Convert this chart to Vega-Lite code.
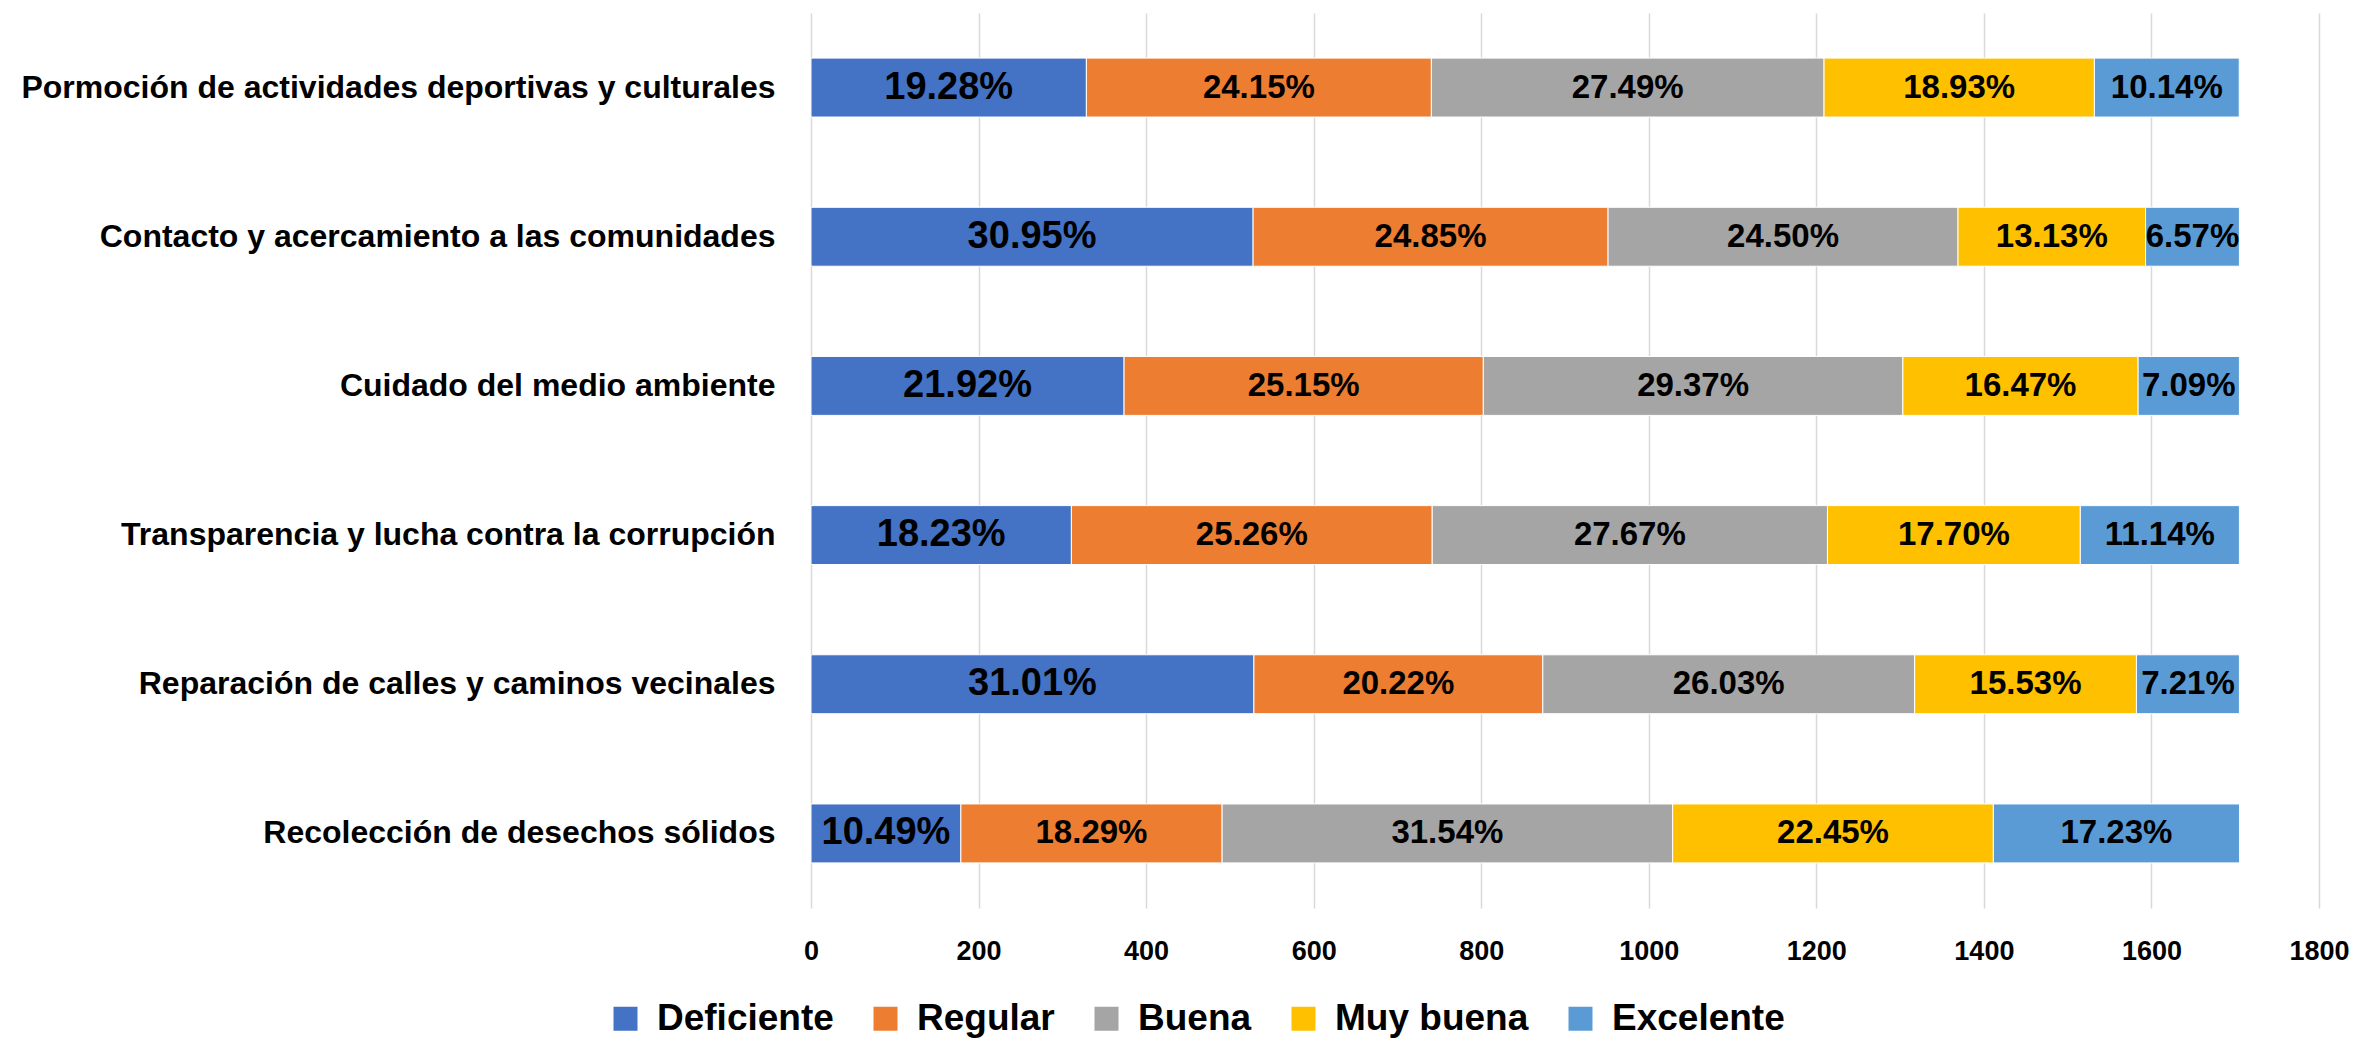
{
  "$schema": "https://vega.github.io/schema/vega-lite/v6.json",
  "autosize": "none",
  "width": 1508,
  "height": 895,
  "padding": {"left": 811, "top": 13, "right": 38, "bottom": 130},
  "background": "white",
  "config": {
    "view": {"stroke": null},
    "font": "Liberation Sans"
  },
  "data": {
    "values": [
      {"item": "Pormoción de actividades deportivas y culturales", "rating": "Deficiente", "rank": 1, "count": 328.7, "pct": 0.1928},
      {"item": "Pormoción de actividades deportivas y culturales", "rating": "Regular", "rank": 2, "count": 411.8, "pct": 0.2415},
      {"item": "Pormoción de actividades deportivas y culturales", "rating": "Buena", "rank": 3, "count": 468.7, "pct": 0.2749},
      {"item": "Pormoción de actividades deportivas y culturales", "rating": "Muy buena", "rank": 4, "count": 322.7, "pct": 0.1893},
      {"item": "Pormoción de actividades deportivas y culturales", "rating": "Excelente", "rank": 5, "count": 172.9, "pct": 0.1014},
      {"item": "Contacto y acercamiento a las comunidades", "rating": "Deficiente", "rank": 1, "count": 527.7, "pct": 0.3095},
      {"item": "Contacto y acercamiento a las comunidades", "rating": "Regular", "rank": 2, "count": 423.7, "pct": 0.2485},
      {"item": "Contacto y acercamiento a las comunidades", "rating": "Buena", "rank": 3, "count": 417.7, "pct": 0.2450},
      {"item": "Contacto y acercamiento a las comunidades", "rating": "Muy buena", "rank": 4, "count": 223.9, "pct": 0.1313},
      {"item": "Contacto y acercamiento a las comunidades", "rating": "Excelente", "rank": 5, "count": 112.0, "pct": 0.0657},
      {"item": "Cuidado del medio ambiente", "rating": "Deficiente", "rank": 1, "count": 373.7, "pct": 0.2192},
      {"item": "Cuidado del medio ambiente", "rating": "Regular", "rank": 2, "count": 428.8, "pct": 0.2515},
      {"item": "Cuidado del medio ambiente", "rating": "Buena", "rank": 3, "count": 500.8, "pct": 0.2937},
      {"item": "Cuidado del medio ambiente", "rating": "Muy buena", "rank": 4, "count": 280.8, "pct": 0.1647},
      {"item": "Cuidado del medio ambiente", "rating": "Excelente", "rank": 5, "count": 120.9, "pct": 0.0709},
      {"item": "Transparencia y lucha contra la corrupción", "rating": "Deficiente", "rank": 1, "count": 310.8, "pct": 0.1823},
      {"item": "Transparencia y lucha contra la corrupción", "rating": "Regular", "rank": 2, "count": 430.7, "pct": 0.2526},
      {"item": "Transparencia y lucha contra la corrupción", "rating": "Buena", "rank": 3, "count": 471.8, "pct": 0.2767},
      {"item": "Transparencia y lucha contra la corrupción", "rating": "Muy buena", "rank": 4, "count": 301.8, "pct": 0.1770},
      {"item": "Transparencia y lucha contra la corrupción", "rating": "Excelente", "rank": 5, "count": 189.9, "pct": 0.1114},
      {"item": "Reparación de calles y caminos vecinales", "rating": "Deficiente", "rank": 1, "count": 528.7, "pct": 0.3101},
      {"item": "Reparación de calles y caminos vecinales", "rating": "Regular", "rank": 2, "count": 344.8, "pct": 0.2022},
      {"item": "Reparación de calles y caminos vecinales", "rating": "Buena", "rank": 3, "count": 443.8, "pct": 0.2603},
      {"item": "Reparación de calles y caminos vecinales", "rating": "Muy buena", "rank": 4, "count": 264.8, "pct": 0.1553},
      {"item": "Reparación de calles y caminos vecinales", "rating": "Excelente", "rank": 5, "count": 122.9, "pct": 0.0721},
      {"item": "Recolección de desechos sólidos", "rating": "Deficiente", "rank": 1, "count": 178.9, "pct": 0.1049},
      {"item": "Recolección de desechos sólidos", "rating": "Regular", "rank": 2, "count": 311.8, "pct": 0.1829},
      {"item": "Recolección de desechos sólidos", "rating": "Buena", "rank": 3, "count": 537.8, "pct": 0.3154},
      {"item": "Recolección de desechos sólidos", "rating": "Muy buena", "rank": 4, "count": 382.8, "pct": 0.2245},
      {"item": "Recolección de desechos sólidos", "rating": "Excelente", "rank": 5, "count": 293.8, "pct": 0.1723}
    ]
  },
  "encoding": {
    "y": {
      "field": "item",
      "type": "nominal",
      "sort": ["Pormoción de actividades deportivas y culturales", "Contacto y acercamiento a las comunidades", "Cuidado del medio ambiente", "Transparencia y lucha contra la corrupción", "Reparación de calles y caminos vecinales", "Recolección de desechos sólidos"],
      "scale": {"paddingInner": 0.605, "paddingOuter": 0.3025},
      "axis": {
        "title": null,
        "domain": false,
        "ticks": false,
        "grid": false,
        "labelFont": "Liberation Sans",
        "labelFontWeight": "bold",
        "labelFontSize": 32,
        "labelColor": "#000000",
        "labelPadding": 36,
        "labelLimit": 900
      }
    },
    "order": {"field": "rank", "type": "quantitative", "sort": "ascending"}
  },
  "layer": [
    {
      "mark": {"type": "bar", "stroke": "#ffffff", "strokeWidth": 1},
      "encoding": {
        "x": {
          "field": "count",
          "type": "quantitative",
          "stack": "zero",
          "scale": {"domain": [0, 1800], "nice": false},
          "axis": {
            "title": null,
            "values": [0, 200, 400, 600, 800, 1000, 1200, 1400, 1600, 1800],
            "format": "d",
            "domain": false,
            "ticks": false,
            "grid": true,
            "gridColor": "#d9d9d9",
            "gridWidth": 1.5,
            "labelFont": "Liberation Sans",
            "labelFontWeight": "bold",
            "labelFontSize": 27,
            "labelColor": "#000000",
            "labelPadding": 30,
            "labelFlush": false
          }
        },
        "color": {
          "field": "rating",
          "type": "nominal",
          "scale": {
            "domain": ["Deficiente", "Regular", "Buena", "Muy buena", "Excelente"],
            "range": ["#4472C4", "#ED7D31", "#A5A5A5", "#FFC000", "#5B9BD5"]
          },
          "legend": {
            "title": null,
            "orient": "none",
            "direction": "horizontal",
            "legendX": -204,
            "legendY": 987,
            "symbolType": "square",
            "symbolSize": 576,
            "symbolStrokeWidth": 0,
            "labelFont": "Liberation Sans",
            "labelFontWeight": "bold",
            "labelFontSize": 37,
            "labelColor": "#000000",
            "labelOffset": 13,
            "columnPadding": 33,
            "labelLimit": 400
          }
        }
      }
    },
    {
      "mark": {"type": "text", "font": "Liberation Sans", "fontWeight": "bold", "color": "#000000", "baseline": "middle", "align": "center"},
      "encoding": {
        "x": {"field": "count", "type": "quantitative", "stack": "zero", "bandPosition": 0.5},
        "detail": {"field": "rating", "type": "nominal"},
        "text": {"field": "pct", "type": "quantitative", "format": ".2%"},
        "size": {
          "condition": {"test": "datum.rating === 'Deficiente'", "value": 38},
          "value": 33
        }
      }
    }
  ]
}
